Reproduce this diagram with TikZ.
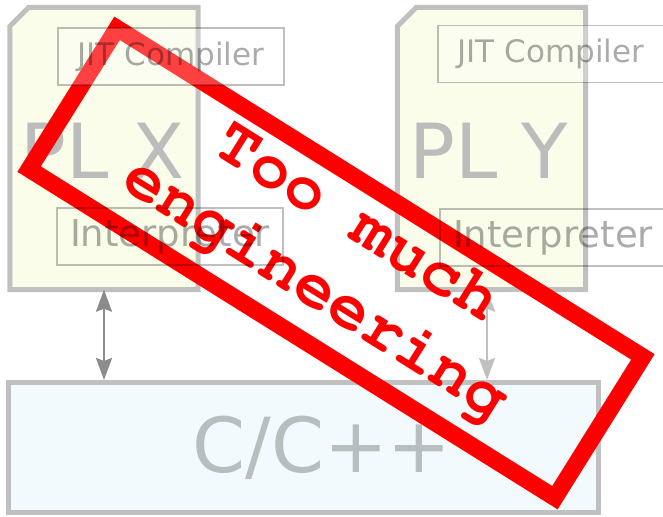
\documentclass[tikz,border=0pt]{standalone}
\usepackage[T1]{fontenc}
\usepackage{fontspec}
\setmainfont{DejaVu Sans}
\usetikzlibrary{arrows.meta, positioning}
\definecolor{plfill}{RGB}{249,253,234}
\definecolor{cfill}{RGB}{243,250,253}
\definecolor{boxgray}{RGB}{192,192,192}
\definecolor{labelgray}{RGB}{188,188,188}
\definecolor{cgray}{RGB}{183,190,190}
\definecolor{stampred}{RGB}{255,0,0}
\newcommand{\stampfont}{\fontencoding{T1}\fontfamily{pcr}\fontseries{b}\selectfont}

\begin{document}
\begin{tikzpicture}[
    x=1pt, y=-1pt,
    plbox/.style={minimum width=188pt, minimum height=282pt, inner sep=0pt},
    plframe/.style={draw=boxgray, line width=5pt, fill=plfill, line join=miter},
    bigtext/.style={font=\fontsize{76}{80}\selectfont, inner sep=0pt},
    cbox/.style={draw=boxgray, line width=5pt, fill=cfill, minimum width=590pt, minimum height=130pt, inner sep=0pt},
    subbox/.style={draw=black, draw opacity=0.25, line width=1.5pt, minimum width=226pt, minimum height=57pt,
                   inner sep=0pt, text=black, text opacity=0.33},
    link/.style={{Stealth[length=22pt, width=16pt, inset=3pt]}-{Stealth[length=22pt, width=16pt, inset=3pt]}, line width=2.5pt},
    stamp/.style={draw=stampred, line width=17pt, minimum width=620pt, minimum height=166pt, inner sep=0pt}
]
    \useasboundingbox (0,0) rectangle (663,516);

    % the two language boxes, top left corner cut off
    \node[plbox] (plx) at (104,148.5) {};
    \node[plbox] (ply) at (491.5,148.5) {};
    \foreach \pl in {plx, ply} {
      \path[plframe] ([yshift=-19pt]\pl.north west) -- ([xshift=19pt]\pl.north west) -- (\pl.north east)
        -- (\pl.south east) -- (\pl.south west) -- cycle;
    }
    \node[bigtext, text=labelgray] (plxlabel) at ([xshift=-1.5pt, yshift=-2pt]plx.center) {PL X};
    \node[bigtext, text=labelgray] (plylabel) at ([xshift=-2.5pt, yshift=-2pt]ply.center) {PL Y};

    % C/C++ base box
    \node[cbox] (cpp) at (303,447.5) {};
    \node[bigtext, text=cgray] (cpplabel) at ([xshift=19pt]cpp.center) {C/C++};

    % connections down to C/C++
    \draw[link, draw=black!45, fill=black!45] (plx.south) -- (plx.south |- cpp.north);
    \coordinate (ybot) at ([xshift=-4.5pt]ply.south);
    \draw[link, draw=boxgray, fill=boxgray] (ybot) -- (ybot |- cpp.north);

    % the stamp on top
    \node[stamp, rotate=-32] (stampbox) at (336,263) {};
    \node[rotate=-32, align=center, text=stampred, font=\stampfont\fontsize{67}{78}\selectfont] (stamptext)
      at (336,257) {Too much\\engineering};

    % inner parts, drawn over the stamp
    \node[subbox, fill=white, fill opacity=0.25, font=\fontsize{31}{36}\selectfont] (jitx) at (171,56.5) {JIT Compiler};
    \node[subbox, font=\fontsize{37}{40}\selectfont] (intx) at (170,236.5) {Interpreter};
    \node[subbox, fill=white, fill opacity=0.25, font=\fontsize{31}{36}\selectfont] (jity) at (551,54) {JIT Compiler};
    \node[subbox, font=\fontsize{37}{40}\selectfont] (inty) at (553,237.5) {Interpreter};

\end{tikzpicture}
\end{document}
